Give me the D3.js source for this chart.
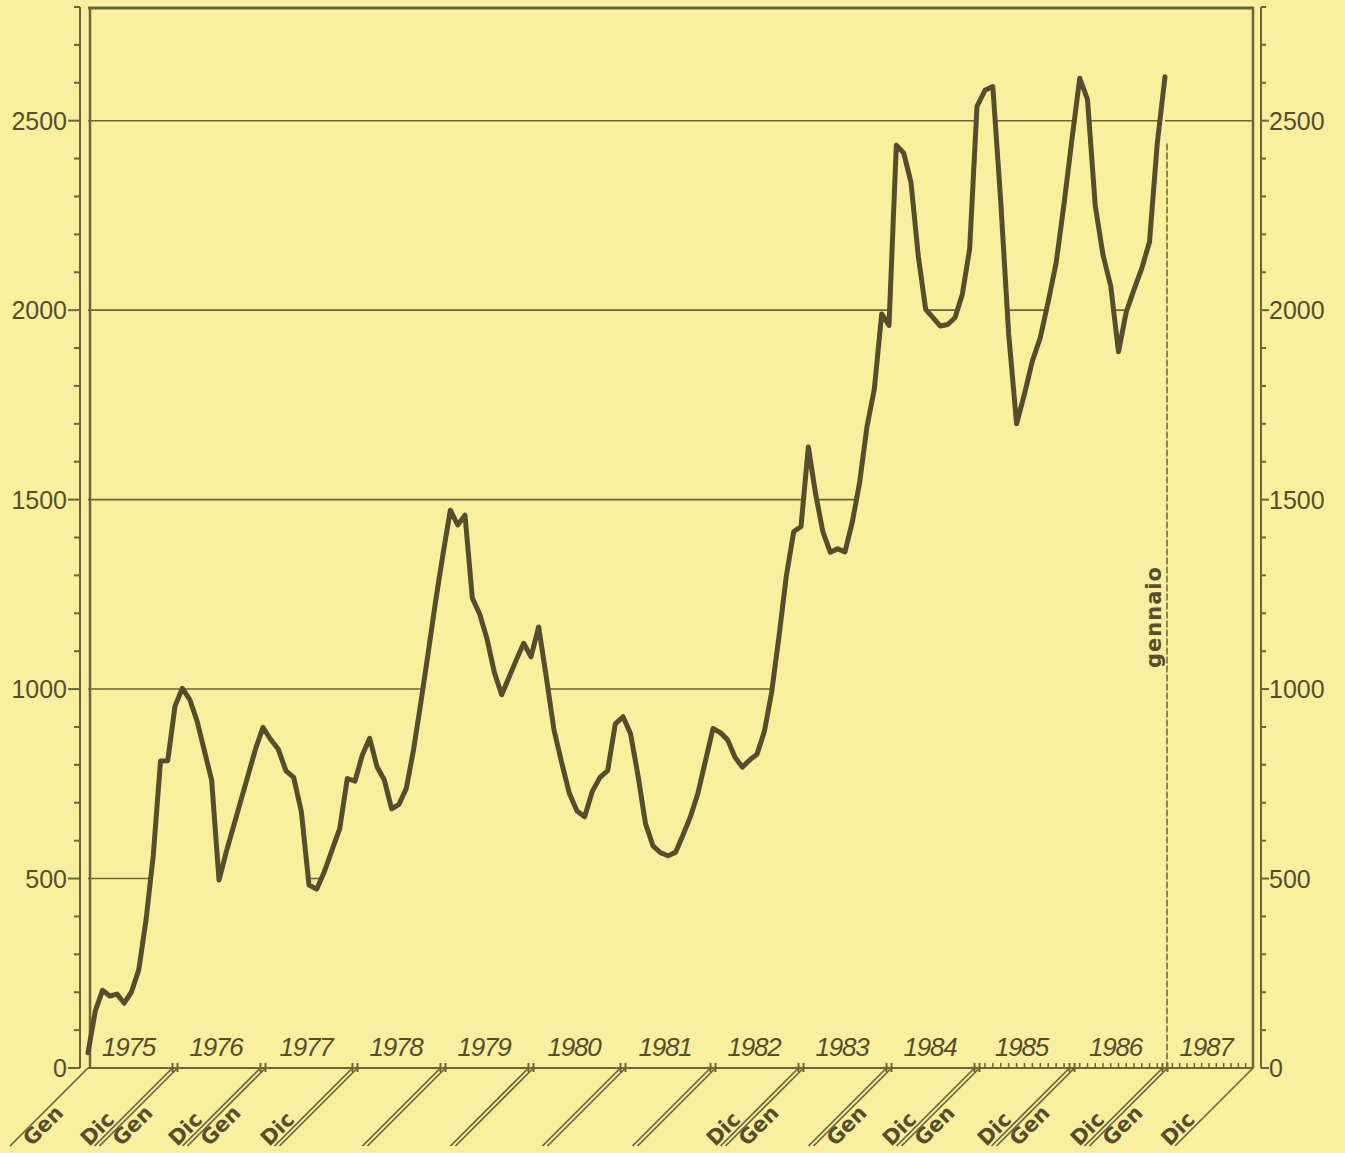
<!DOCTYPE html>
<html><head><meta charset="utf-8">
<script src="https://cdn.jsdelivr.net/npm/d3@7"></script>
<style>html,body{margin:0;padding:0;background:#f9ef9f;} svg{display:block;}</style>
</head><body><div id="chart"></div>
<script>
// ---------- data ----------
const years = [1975,1976,1977,1978,1979,1980,1981,1982,1983,1984,1985,1986,1987];
const v1975 = [40, 150, 205, 190, 195, 171, 201, 259, 390, 560, 810, 811];
const v1976 = [955, 1002, 973, 916, 838, 759, 496, 571, 639, 707, 775, 843];
const v1977 = [899, 867, 841, 784, 767, 677, 483, 472, 518, 575, 631, 764];
const v1978 = [757, 826, 870, 795, 760, 684, 696, 738, 842, 967, 1098, 1233];
const v1979 = [1356, 1472, 1433, 1459, 1240, 1198, 1133, 1044, 985, 1031, 1077, 1121];
const v1980 = [1085, 1164, 1031, 892, 806, 725, 678, 663, 730, 767, 785, 908];
const v1981 = [927, 883, 772, 645, 586, 568, 560, 569, 615, 664, 726, 811];
const v1982 = [896, 885, 866, 820, 794, 813, 828, 888, 992, 1139, 1298, 1415];
const v1983 = [1429, 1639, 1514, 1414, 1361, 1370, 1362, 1441, 1546, 1693, 1791, 1990];
const v1984 = [1960, 2435, 2415, 2337, 2142, 2002, 1980, 1958, 1962, 1980, 2042, 2162];
const v1985 = [2538, 2580, 2590, 2286, 1937, 1700, 1779, 1866, 1928, 2023, 2125, 2281];
const v1986 = [2452, 2612, 2556, 2275, 2146, 2063, 1890, 1995, 2054, 2110, 2180, 2440];
const v1987 = [2616];
const yearValues = [v1975,v1976,v1977,v1978,v1979,v1980,v1981,v1982,v1983,v1984,v1985,v1986,v1987];

const yTicks = [0, 500, 1000, 1500, 2000, 2500];
const yMax = 2800;
const genLabel = "Gen", dicLabel = "Dic";
const dicYears = [1975,1976,1977,1982,1984,1985,1986,1987];
const genYears = [1975,1976,1977,1983,1984,1985,1986,1987];
const monthTickYears = [1985,1986,1987];
const markerLabel = "gennaio";

// ---------- layout ----------
const W = 1345, H = 1153;
const yearEdgesPx = [88,175,263,355,443,531,623,713,801,889,977,1072,1165,1253];
const axisY = 1068;
const INK = "#574d2c", GRID = "#6d6438";

const svg = d3.select("#chart").append("svg").attr("width", W).attr("height", H);
svg.append("rect").attr("width", W).attr("height", H).attr("fill", "#f9ef9f");

const x = d3.scaleLinear().domain(years.map((d,i)=>i*12).concat([years.length*12])).range(yearEdgesPx);
const y = d3.scaleLinear().domain([0, yMax]).range([axisY, 7]);

const series = yearValues.flat().map((v,i)=>({i, v}));
const last = series[series.length-1];
const xL = x(0), xR = x(years.length*12), yTop = y(yMax);

// ---------- gridlines (only visible above the curve) ----------
const defs = svg.append("defs");
const clip = defs.append("clipPath").attr("id","above");
clip.append("path").attr("d", d3.area().x(d=>x(d.i)).y0(yTop).y1(d=>y(d.v))(series));
clip.append("rect").attr("x", x(last.i)).attr("y", yTop).attr("width", xR - x(last.i)).attr("height", y(2250)-yTop);

svg.append("g").attr("clip-path","url(#above)")
  .selectAll("line").data(yTicks.filter(d=>d>0)).join("line")
  .attr("x1", xL).attr("x2", xR).attr("y1", d=>y(d)).attr("y2", d=>y(d))
  .attr("stroke", GRID).attr("stroke-width", 1.6);

// ---------- frame ----------
const frame = svg.append("g").attr("stroke", GRID).attr("fill","none");
frame.append("line").attr("x1", 90).attr("x2", 90).attr("y1", yTop).attr("y2", axisY).attr("stroke-width", 2.5);
frame.append("line").attr("x1", 88).attr("x2", xR+1).attr("y1", yTop+1).attr("y2", yTop+1).attr("stroke-width", 3);
frame.append("line").attr("x1", xR).attr("x2", xR).attr("y1", yTop).attr("y2", axisY).attr("stroke-width", 2.5);
frame.append("line").attr("x1", xL).attr("x2", xR).attr("y1", axisY).attr("y2", axisY).attr("stroke-width", 2.2);

// ---------- side value axes ----------
const allTicks = d3.range(0, yMax+1, 100);
const lax = svg.append("g").attr("stroke", GRID);
lax.append("line").attr("x1",80).attr("x2",80).attr("y1",yTop).attr("y2",axisY).attr("stroke-width",2);
lax.selectAll("line.t").data(allTicks).join("line").attr("class","t")
  .attr("x1", d=> d%500===0 ? 68 : 74).attr("x2", 80)
  .attr("y1", d=>y(d)).attr("y2", d=>y(d)).attr("stroke-width", 2);
const rax = svg.append("g").attr("stroke", GRID);
rax.append("line").attr("x1",1261).attr("x2",1261).attr("y1",yTop).attr("y2",axisY).attr("stroke-width",2);
rax.selectAll("line.t").data(allTicks).join("line").attr("class","t")
  .attr("x1", 1261).attr("x2", d=> d%500===0 ? 1269 : 1266)
  .attr("y1", d=>y(d)).attr("y2", d=>y(d)).attr("stroke-width", 2);

const lblFont = "'Liberation Sans', Arial, sans-serif";
svg.append("g").selectAll("text").data(yTicks).join("text")
  .attr("x", 67).attr("y", d=>y(d)+9).attr("text-anchor","end")
  .attr("font-family", lblFont).attr("font-size", 25).attr("fill", INK).text(d=>d);
svg.append("g").selectAll("text").data(yTicks).join("text")
  .attr("x", 1269).attr("y", d=>y(d)+9).attr("text-anchor","start")
  .attr("font-family", lblFont).attr("font-size", 25).attr("fill", INK).text(d=>d);

// ---------- bottom axis decorations ----------
const deco = svg.append("g").attr("stroke", GRID).attr("stroke-width", 1.7).attr("fill","none");
const depth = 78;
years.concat([years[years.length-1]+1]).forEach((yr, k) => {
  const bx = x(k*12);
  const single = (k === 0 || k === years.length);
  const starts = single ? [bx] : [bx-2.5, bx+2.5];
  starts.forEach(sx => {
    deco.append("line").attr("x1", sx).attr("y1", axisY).attr("x2", sx-depth).attr("y2", axisY+depth);
    if (!single) deco.append("line").attr("x1", sx).attr("x2", sx).attr("y1", axisY-5).attr("y2", axisY+4).attr("stroke-width", 2);
  });
});
monthTickYears.forEach(yr => {
  const k = yr - years[0];
  d3.range(1,12).forEach(m => {
    const mx = x(k*12+m);
    deco.append("line").attr("x1", mx).attr("x2", mx).attr("y1", axisY-5).attr("y2", axisY).attr("stroke-width", 1.5);
  });
});

// Gen / Dic labels
const monthFont = "'DejaVu Sans', Verdana, sans-serif";
const mlab = svg.append("g").attr("font-family", monthFont).attr("font-weight","bold")
  .attr("font-size", 21).attr("fill", INK);
const s2 = Math.SQRT1_2;
genYears.forEach(yr => {
  const k = yr - years[0];
  const bx = x(k*12) + (k === 0 ? 0 : 2.5);
  const d = 16, t = 79 - s2*d;
  const sx = bx - t + s2*d, sy = axisY + t + s2*d;
  mlab.append("text").attr("transform", `translate(${sx},${sy}) rotate(-45)`).text(genLabel);
});
dicYears.forEach(yr => {
  const k = yr - years[0] + 1;
  const bx = x(k*12) - (k === years.length ? 0 : 2.5);
  const d = 3, t = 79 + s2*d;
  const sx = bx - t - s2*d, sy = axisY + t - s2*d;
  mlab.append("text").attr("transform", `translate(${sx},${sy}) rotate(-45)`).text(dicLabel);
});

// year labels
svg.append("g").selectAll("text").data(years).join("text")
  .attr("x", (d,k)=> (x(k*12)+x(k*12+12))/2 - 3).attr("y", axisY - 12)
  .attr("text-anchor","middle").attr("font-family", lblFont).attr("font-style","italic")
  .attr("font-size", 26).attr("letter-spacing", -1.2).attr("fill", INK).text(d=>d);

// ---------- gennaio marker ----------
svg.append("line").attr("x1", x(last.i)+2).attr("x2", x(last.i)+2)
  .attr("y1", y(2440)).attr("y2", axisY)
  .attr("stroke", GRID).attr("stroke-width", 1.5).attr("stroke-dasharray","7,2");
svg.append("text").attr("transform", `translate(${x(last.i)-4},617) rotate(-90)`)
  .attr("text-anchor","middle").attr("font-family", monthFont).attr("font-weight","bold")
  .attr("font-size", 21).attr("letter-spacing", 1).attr("fill", INK).text(markerLabel);

// ---------- data line ----------
svg.append("path").datum(series)
  .attr("d", d3.line().x(d=>x(d.i)).y(d=>y(d.v)))
  .attr("fill","none").attr("stroke", INK).attr("stroke-width", 5)
  .attr("stroke-linejoin","round").attr("stroke-linecap","round");
</script></body></html>
